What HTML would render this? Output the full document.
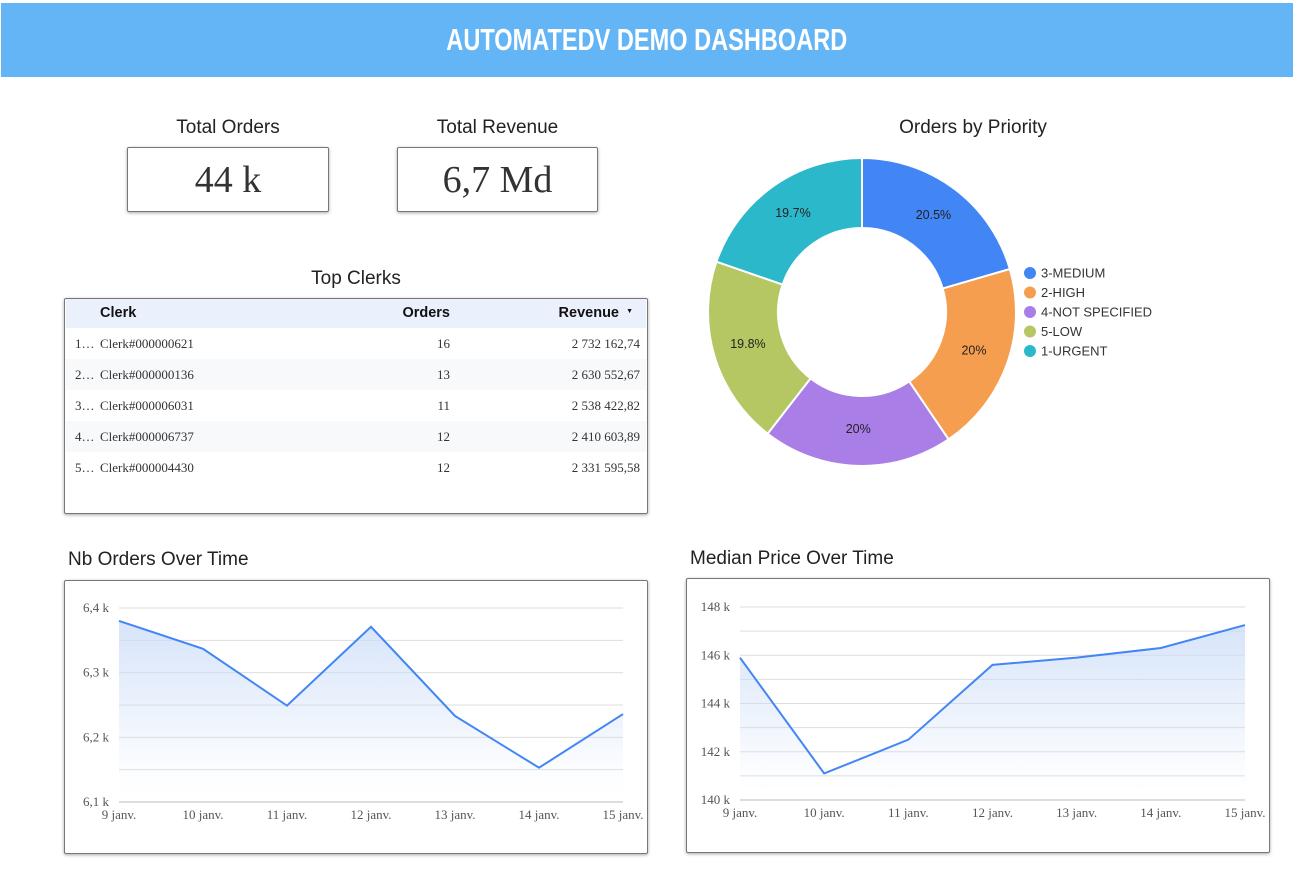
<!DOCTYPE html>
<html><head><meta charset="utf-8"><style>
*{box-sizing:border-box;margin:0;padding:0}
body{width:1293px;height:871px;background:#fff;position:relative;overflow:hidden;font-family:"Liberation Sans",sans-serif}
.abs{position:absolute}
.card{position:absolute;border:1px solid #777;border-radius:2px;background:#fff;box-shadow:0 1px 3px rgba(0,0,0,.35)}
.title{position:absolute;font-family:"Liberation Sans",sans-serif;font-size:19px;color:#222}
.kpi{font-family:"Liberation Serif",serif;font-size:38px;color:#333;display:flex;align-items:center;justify-content:center}
.row{position:absolute;left:1px;right:1px;height:31px;font-family:"Liberation Serif",serif;font-size:13px;color:#333}
.row span{position:absolute;top:8px}
.hd{font-family:"Liberation Sans",sans-serif;font-size:14.5px;font-weight:bold;color:#111}
svg text{font-family:"Liberation Serif",serif}
</style></head><body>
<div class="abs" style="left:1px;top:3px;width:1292px;height:74px;background:#64b5f6;display:flex;align-items:center;justify-content:center">
<span style="font-family:'Liberation Sans',sans-serif;font-weight:bold;font-size:31px;color:#fff;display:inline-block;transform:scaleX(0.76);white-space:nowrap">AUTOMATEDV DEMO DASHBOARD</span></div>

<div class="title" style="left:127px;top:117px;width:202px;text-align:center">Total Orders</div>
<div class="card kpi" style="left:127px;top:147px;width:202px;height:65px">44 k</div>
<div class="title" style="left:397px;top:117px;width:201px;text-align:center">Total Revenue</div>
<div class="card kpi" style="left:397px;top:147px;width:201px;height:65px">6,7 Md</div>

<div class="title" style="left:64px;top:268px;width:584px;text-align:center">Top Clerks</div>
<div class="card" style="left:64px;top:298px;width:584px;height:216px">
 <div class="row hd" style="top:0;background:#eaf1fd;height:29px">
  <span style="left:34px;top:6px" class="hd">Clerk</span>
  <span style="right:196px;top:6px" class="hd">Orders</span>
  <span style="right:27px;top:6px" class="hd">Revenue</span>
  <span style="right:13px;top:9px;font-size:7px">▼</span>
 </div>
 <div class="row" style="top:29px"><span style="left:9px">1…</span><span style="left:34px">Clerk#000000621</span><span style="right:196px">16</span><span style="right:6px">2 732 162,74</span></div>
 <div class="row" style="top:60px;background:#f8f9fa"><span style="left:9px">2…</span><span style="left:34px">Clerk#000000136</span><span style="right:196px">13</span><span style="right:6px">2 630 552,67</span></div>
 <div class="row" style="top:91px"><span style="left:9px">3…</span><span style="left:34px">Clerk#000006031</span><span style="right:196px">11</span><span style="right:6px">2 538 422,82</span></div>
 <div class="row" style="top:122px;background:#f8f9fa"><span style="left:9px">4…</span><span style="left:34px">Clerk#000006737</span><span style="right:196px">12</span><span style="right:6px">2 410 603,89</span></div>
 <div class="row" style="top:153px"><span style="left:9px">5…</span><span style="left:34px">Clerk#000004430</span><span style="right:196px">12</span><span style="right:6px">2 331 595,58</span></div>
</div>

<div class="title" style="left:860px;top:117px;width:226px;text-align:center">Orders by Priority</div>
<svg class="abs" id="donut" style="left:690px;top:150px" width="500" height="330"></svg>

<div class="title" style="left:68px;top:549px">Nb Orders Over Time</div>
<div class="card" style="left:64px;top:580px;width:584px;height:274px"></div>
<svg class="abs" id="c1" style="left:64px;top:580px" width="584" height="274"></svg>

<div class="title" style="left:690px;top:548px">Median Price Over Time</div>
<div class="card" style="left:686px;top:578px;width:584px;height:275px"></div>
<svg class="abs" id="c2" style="left:686px;top:578px" width="584" height="275"></svg>

<script>
const priorityLabels=["3-MEDIUM","2-HIGH","4-NOT SPECIFIED","5-LOW","1-URGENT"];
const priorityValues=[20.5,20,20,19.8,19.7];
const priorityText=["20.5%","20%","20%","19.8%","19.7%"];
const priorityColors=["#4285f4","#f59e4f","#a97ee6","#b5c763","#2cb8cb"];
const dates=["9 janv.","10 janv.","11 janv.","12 janv.","13 janv.","14 janv.","15 janv."];
const ordersValues=[6380,6337,6249,6371,6233,6153,6236];
const ordersTicks=[6100,6200,6300,6400];
const ordersTickLabels=["6,1 k","6,2 k","6,3 k","6,4 k"];
const priceValues=[145.9,141.1,142.5,145.6,145.9,146.3,147.25];
const priceTicks=[140,142,144,146,148];
const priceTickLabels=["140 k","142 k","144 k","146 k","148 k"];

const NS="http://www.w3.org/2000/svg";
function mk(p,t,a){const e=document.createElementNS(NS,t);for(const k in a)e.setAttribute(k,a[k]);p.appendChild(e);return e;}

(function(){
 const svg=document.getElementById('donut');
 const cx=172,cy=162,R=154,r=84;
 const total=priorityValues.reduce((a,b)=>a+b,0);
 let a0=0;
 priorityValues.forEach((v,i)=>{
  const a1=a0+v/total*Math.PI*2;
  const p=(a,rr)=>[cx+rr*Math.sin(a),cy-rr*Math.cos(a)];
  const [x1,y1]=p(a0,R),[x2,y2]=p(a1,R),[x3,y3]=p(a1,r),[x4,y4]=p(a0,r);
  const lg=(a1-a0)>Math.PI?1:0;
  const s=mk(svg,'path',{d:`M${x1},${y1}A${R},${R} 0 ${lg} 1 ${x2},${y2}L${x3},${y3}A${r},${r} 0 ${lg} 0 ${x4},${y4}Z`,fill:priorityColors[i],stroke:'#fff','stroke-width':2});
  
  
  const [tx,ty]=p((a0+a1)/2,(R+r)/2);
  const t=mk(svg,'text',{x:tx,y:ty+2,'text-anchor':'middle','font-size':12.5,fill:'#222'});
  
  
  t.style.fontFamily='"Liberation Sans",sans-serif';
  t.textContent=priorityText[i];
  const ly=123+i*19.5;
  const c=mk(svg,'circle',{cx:340,cy:ly,r:6,fill:priorityColors[i]});
  
  
  const lt=mk(svg,'text',{x:351,y:ly+4.5,'font-size':13,fill:'#333'});
  
  
  lt.style.fontFamily='"Liberation Sans",sans-serif';
  lt.textContent=priorityLabels[i];
  a0=a1;
 });
})();

function lineChart(id,vals,ticks,labels,x0,x1,yTop,yBot,gid){
 const svg=document.getElementById(id);
 const lo=ticks[0],hi=ticks[ticks.length-1];
 const X=i=>x0+i*(x1-x0)/(dates.length-1);
 const Y=v=>yBot-(v-lo)/(hi-lo)*(yBot-yTop);
 const defs=mk(svg,'defs',{});
 const g=mk(defs,'linearGradient',{id:gid,x1:0,y1:0,x2:0,y2:1});
 mk(g,'stop',{offset:'0','stop-color':'#c9dbf8','stop-opacity':0.75});
 mk(g,'stop',{offset:'0.85','stop-color':'#c9dbf8','stop-opacity':0.05});
 mk(g,'stop',{offset:'1','stop-color':'#fff','stop-opacity':0});
 const steps=(ticks.length-1)*2;
 for(let k=0;k<=steps;k++){
  const v=lo+(hi-lo)*k/steps;
  const gl=mk(svg,'line',{x1:x0,x2:x1,y1:Y(v),y2:Y(v),stroke:k==0?'#bbb':'#dedede','stroke-width':1});
  
  
 }
 ticks.forEach((t,i)=>{
  const tl=mk(svg,'text',{x:x0-10,y:Y(t)+4,'text-anchor':'end','font-size':13,fill:'#555'});
  
  
  tl.textContent=labels[i];
 });
 dates.forEach((d,i)=>{
  const tl=mk(svg,'text',{x:X(i),y:yBot+17,'text-anchor':'middle','font-size':13,fill:'#555'});
  
  
  tl.textContent=d;
 });
 const pts=vals.map((v,i)=>X(i)+','+Y(v));
 const area=mk(svg,'path',{d:'M'+X(0)+','+yBot+'L'+pts.join('L')+'L'+X(vals.length-1)+','+yBot+'Z',fill:'url(#'+gid+')'});
 
 
 const ln=mk(svg,'polyline',{points:pts.join(' '),fill:'none',stroke:'#4285f4','stroke-width':2});
 
 
}
lineChart('c1',ordersValues,ordersTicks,ordersTickLabels,55,559,28,222,'g1');
lineChart('c2',priceValues,priceTicks,priceTickLabels,54,559,29,222,'g2');
</script>
</body></html>
